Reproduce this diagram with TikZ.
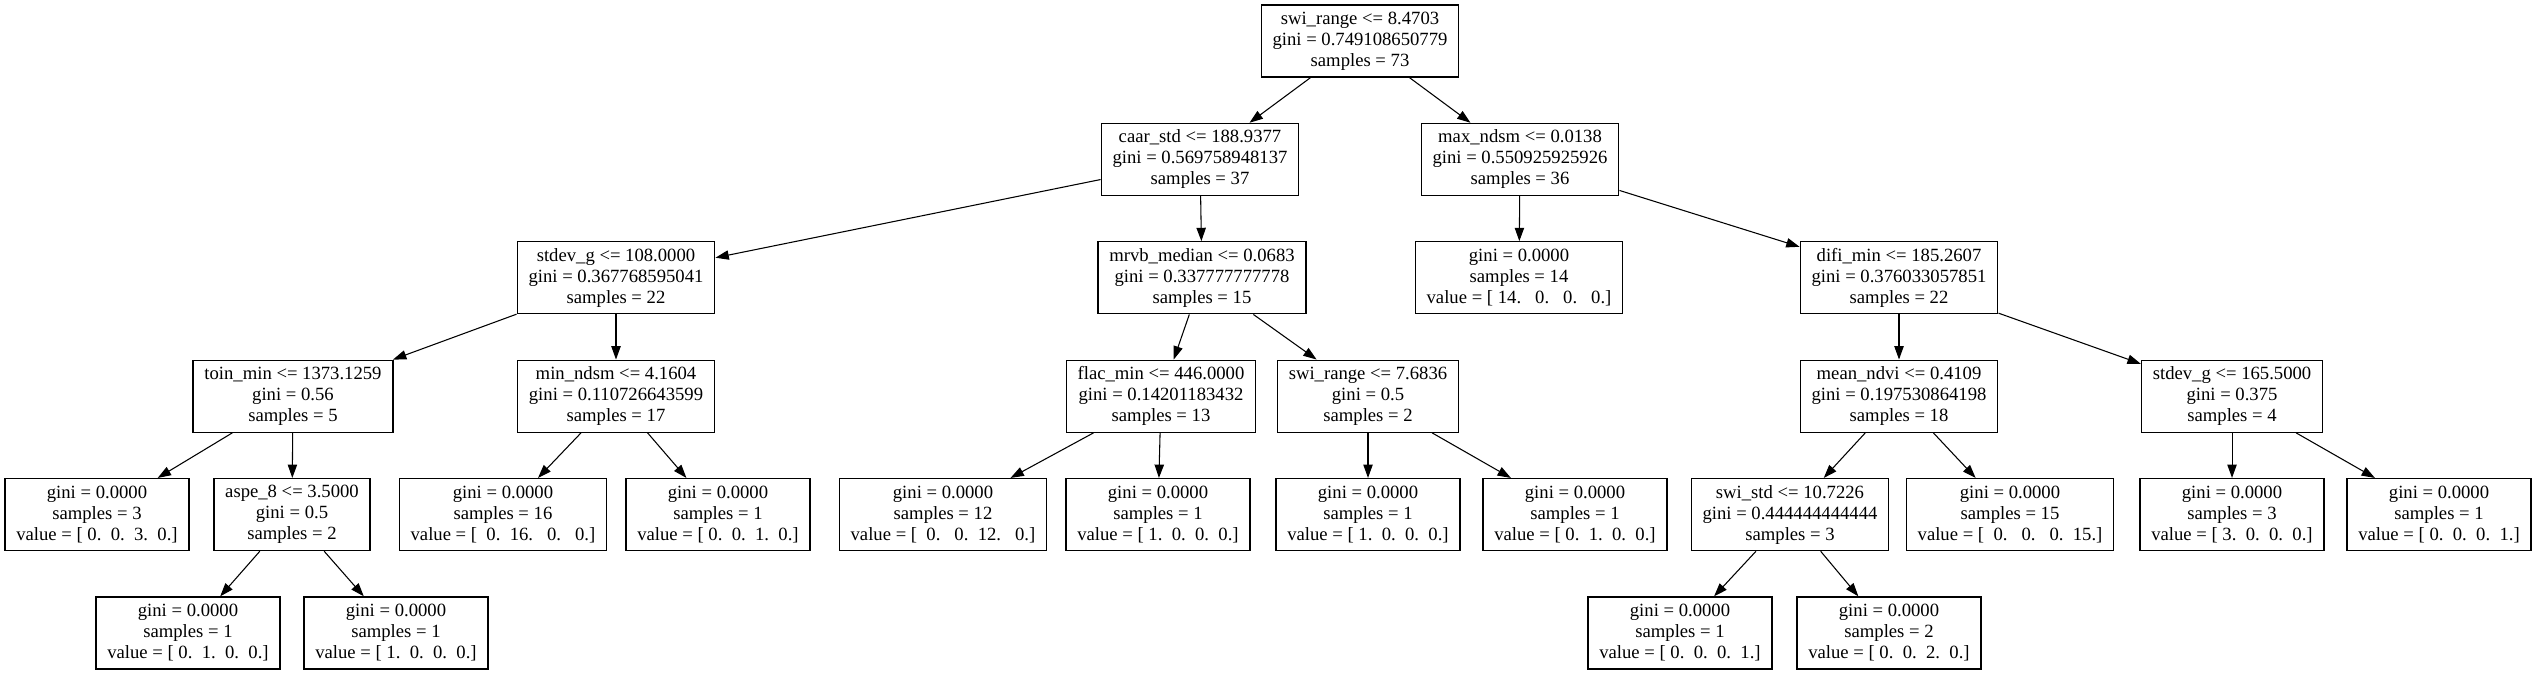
\documentclass[tikz,border=0pt]{standalone}
\usepackage{fontspec}
\setmainfont{Liberation Serif}
\usetikzlibrary{arrows.meta}
\begin{document}
\begin{tikzpicture}[x=0.75pt,y=-0.75pt,
  tn/.style={draw=black,line width=1pt,rectangle,align=center,minimum height=54pt,
    inner xsep=8.5pt,inner ysep=2pt,font=\fontsize{14}{15.75}\selectfont},
  ed/.style={line width=0.8pt,-{Triangle[length=10pt,width=7pt]}}]
\useasboundingbox (0,0) rectangle (2536,675);
\def\La{41}\def\Lb{159.4}\def\Lc{277.8}\def\Ld{396.2}\def\Le{514.6}\def\Lf{633}
% level 0
\node[tn] (root) at (1360,\La) {swi\_range <= 8.4703\\gini = 0.749108650779\\samples = 73};
% level 1
\node[tn] (caar) at (1200,\Lb) {caar\_std <= 188.9377\\gini = 0.569758948137\\samples = 37};
\node[tn] (maxn) at (1520,\Lb) {max\_ndsm <= 0.0138\\gini = 0.550925925926\\samples = 36};
% level 2
\node[tn] (stdg) at (616,\Lc) {stdev\_g <= 108.0000\\gini = 0.367768595041\\samples = 22};
\node[tn] (mrvb) at (1202,\Lc) {mrvb\_median <= 0.0683\\gini = 0.337777777778\\samples = 15};
\node[tn] (lf14) at (1519,\Lc) {gini = 0.0000\\samples = 14\\value = [~14.~~~0.~~~0.~~~0.]};
\node[tn] (difi) at (1899,\Lc) {difi\_min <= 185.2607\\gini = 0.376033057851\\samples = 22};
% level 3
\node[tn] (toin) at (293,\Ld) {toin\_min <= 1373.1259\\gini = 0.56\\samples = 5};
\node[tn] (minn) at (616,\Ld) {min\_ndsm <= 4.1604\\gini = 0.110726643599\\samples = 17};
\node[tn] (flac) at (1161,\Ld) {flac\_min <= 446.0000\\gini = 0.14201183432\\samples = 13};
\node[tn] (swir) at (1368,\Ld) {swi\_range <= 7.6836\\gini = 0.5\\samples = 2};
\node[tn] (mndv) at (1899,\Ld) {mean\_ndvi <= 0.4109\\gini = 0.197530864198\\samples = 18};
\node[tn] (stdh) at (2232,\Ld) {stdev\_g <= 165.5000\\gini = 0.375\\samples = 4};
% level 4
\node[tn] (la) at (97,\Le) {gini = 0.0000\\samples = 3\\value = [~0.~~0.~~3.~~0.]};
\node[tn] (aspe) at (292,\Le) {aspe\_8 <= 3.5000\\gini = 0.5\\samples = 2};
\node[tn] (lb) at (503,\Le) {gini = 0.0000\\samples = 16\\value = [~~0.~~16.~~~0.~~~0.]};
\node[tn] (lc) at (718,\Le) {gini = 0.0000\\samples = 1\\value = [~0.~~0.~~1.~~0.]};
\node[tn] (ld) at (943,\Le) {gini = 0.0000\\samples = 12\\value = [~~0.~~~0.~~12.~~~0.]};
\node[tn] (le) at (1158,\Le) {gini = 0.0000\\samples = 1\\value = [~1.~~0.~~0.~~0.]};
\node[tn] (lf) at (1368,\Le) {gini = 0.0000\\samples = 1\\value = [~1.~~0.~~0.~~0.]};
\node[tn] (lg) at (1575,\Le) {gini = 0.0000\\samples = 1\\value = [~0.~~1.~~0.~~0.]};
\node[tn] (swis) at (1790,\Le) {swi\_std <= 10.7226\\gini = 0.444444444444\\samples = 3};
\node[tn] (lh) at (2010,\Le) {gini = 0.0000\\samples = 15\\value = [~~0.~~~0.~~~0.~~15.]};
\node[tn] (li) at (2232,\Le) {gini = 0.0000\\samples = 3\\value = [~3.~~0.~~0.~~0.]};
\node[tn] (lj) at (2439,\Le) {gini = 0.0000\\samples = 1\\value = [~0.~~0.~~0.~~1.]};
% level 5
\node[tn] (ma) at (188,\Lf) {gini = 0.0000\\samples = 1\\value = [~0.~~1.~~0.~~0.]};
\node[tn] (mb) at (396,\Lf) {gini = 0.0000\\samples = 1\\value = [~1.~~0.~~0.~~0.]};
\node[tn] (mc) at (1680,\Lf) {gini = 0.0000\\samples = 1\\value = [~0.~~0.~~0.~~1.]};
\node[tn] (md) at (1889,\Lf) {gini = 0.0000\\samples = 2\\value = [~0.~~0.~~2.~~0.]};
% edges
\draw[ed] (root) -- (caar);
\draw[ed] (root) -- (maxn);
\draw[ed] (caar) -- (stdg);
\draw[ed] (caar) -- (mrvb);
\draw[ed] (maxn) -- (lf14);
\draw[ed] (maxn) -- (difi);
\draw[ed] (stdg) -- (toin);
\draw[ed] (stdg) -- (minn);
\draw[ed] (mrvb) -- (flac);
\draw[ed] (mrvb) -- (swir);
\draw[ed] (difi) -- (mndv);
\draw[ed] (difi) -- (stdh);
\draw[ed] (toin) -- (la);
\draw[ed] (toin) -- (aspe);
\draw[ed] (minn) -- (lb);
\draw[ed] (minn) -- (lc);
\draw[ed] (flac) -- (ld);
\draw[ed] (flac) -- (le);
\draw[ed] (swir) -- (lf);
\draw[ed] (swir) -- (lg);
\draw[ed] (mndv) -- (swis);
\draw[ed] (mndv) -- (lh);
\draw[ed] (stdh) -- (li);
\draw[ed] (stdh) -- (lj);
\draw[ed] (aspe) -- (ma);
\draw[ed] (aspe) -- (mb);
\draw[ed] (swis) -- (mc);
\draw[ed] (swis) -- (md);
\end{tikzpicture}
\end{document}
